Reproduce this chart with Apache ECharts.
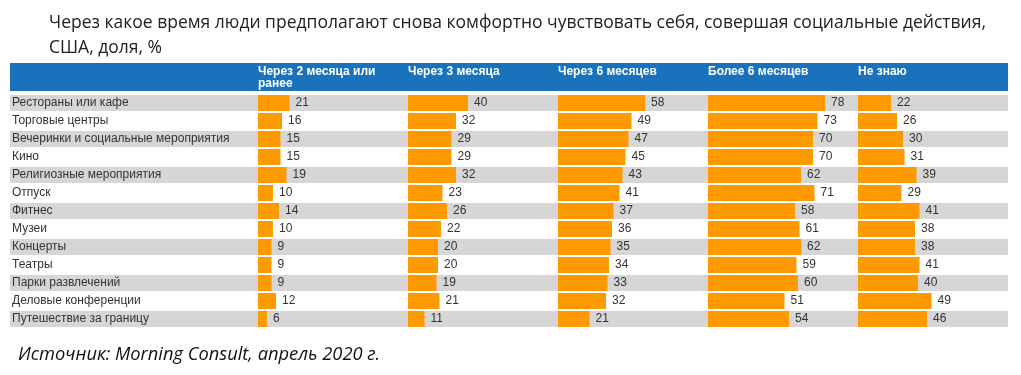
<!DOCTYPE html>
<html>
<head>
<meta charset="utf-8">
<script src="https://cdn.jsdelivr.net/npm/echarts@6/dist/echarts.min.js"></script>
<style>
  html, body { margin: 0; padding: 0; background: #fff; }
  #chart { width: 1021px; height: 375px; }
</style>
</head>
<body>
<div id="chart"></div>
<script>
// категории (строки таблицы)
const categories = [
    'Рестораны или кафе',
    'Торговые центры',
    'Вечеринки и социальные мероприятия',
    'Кино',
    'Религиозные мероприятия',
    'Отпуск',
    'Фитнес',
    'Музеи',
    'Концерты',
    'Театры',
    'Парки развлечений',
    'Деловые конференции',
    'Путешествие за границу'
];

// заголовки столбцов
const columns = [
    'Через 2 месяца или ранее',
    'Через 3 месяца',
    'Через 6 месяцев',
    'Более 6 месяцев',
    'Не знаю'
];

// значения, %
const in2Months = [21, 16, 15, 15, 19, 10, 14, 10, 9, 9, 9, 12, 6];
const in3Months = [40, 32, 29, 29, 32, 23, 26, 22, 20, 20, 19, 21, 11];
const in6Months = [58, 49, 47, 45, 43, 41, 37, 36, 35, 34, 33, 32, 21];
const over6Months = [78, 73, 70, 70, 62, 71, 58, 61, 62, 59, 60, 51, 54];
const dontKnow = [22, 26, 30, 31, 39, 29, 41, 38, 38, 41, 40, 49, 46];

const seriesData = [in2Months, in3Months, in6Months, over6Months, dontKnow];

const titleText = 'Через какое время люди предполагают снова комфортно чувствовать себя, совершая социальные действия,\nСША, доля, %';
const sourceText = 'Источник: Morning Consult, апрель 2020 г.';

// раскладка
const tableTop = 94;
const rowH = 18;
const panelLeft = [258, 408, 558, 708, 858];
const panelWidth = 150;
const cellFont = '"Liberation Sans", Arial, sans-serif';
const headFont = 'bold 12px ' + cellFont;

// перенос заголовка столбца по словам
function wrapText(text, font, maxW) {
    let ctx = document.createElement('canvas').getContext('2d');
    ctx.font = font;
    let lines = [], cur = '';
    text.split(' ').forEach(w => {
        let t = cur ? cur + ' ' + w : w;
        if (cur && ctx.measureText(t).width > maxW) {
            lines.push(cur);
            cur = w;
        } else {
            cur = t;
        }
    });
    lines.push(cur);
    return lines.join('\n');
}

let myChart = echarts.init(document.getElementById('chart'), null, { renderer: 'canvas' });

let grids = [{ left: 10, width: 998, top: tableTop, height: rowH * categories.length }];
let xAxes = [{ gridIndex: 0, type: 'value', min: 0, max: 1, show: false }];
let yAxes = [{
    gridIndex: 0,
    type: 'category',
    data: categories,
    inverse: true,
    axisLine: { show: false },
    axisTick: { show: false },
    axisLabel: {
        inside: true,
        margin: 2,
        fontSize: 12,
        color: '#333',
        fontFamily: cellFont
    }
}];
let series = [{
    // полосы строк (серый / белый)
    type: 'bar',
    xAxisIndex: 0,
    yAxisIndex: 0,
    barWidth: rowH - 2,
    silent: true,
    z: 0,
    data: categories.map((c, i) => ({
        value: 1,
        itemStyle: { color: i % 2 === 0 ? '#D6D6D6' : '#ffffff' }
    }))
}];

seriesData.forEach((arr, k) => {
    let idx = k + 1;
    grids.push({ left: panelLeft[k], width: panelWidth, top: tableTop, height: rowH * categories.length });
    xAxes.push({ gridIndex: idx, type: 'value', min: 0, max: 100, show: false });
    yAxes.push({ gridIndex: idx, type: 'category', data: categories, inverse: true, show: false });
    series.push({
        name: columns[k],
        type: 'bar',
        xAxisIndex: idx,
        yAxisIndex: idx,
        barWidth: rowH - 2,
        z: 2,
        itemStyle: { color: '#FF9900' },
        label: {
            show: true,
            position: 'right',
            distance: 6,
            fontSize: 12,
            color: '#333',
            fontFamily: cellFont
        },
        data: arr
    });
});

let graphics = [{
    type: 'rect',
    shape: { x: 10, y: 63, width: 998, height: 28 },
    style: { fill: '#1A72BD' },
    z: 1
}];
columns.forEach((name, k) => {
    graphics.push({
        type: 'text',
        x: panelLeft[k],
        y: 66,
        z: 2,
        style: {
            text: wrapText(name, headFont, 125),
            lineHeight: 12,
            fill: '#fff',
            font: headFont
        }
    });
});
graphics.push({
    type: 'text',
    x: 18,
    y: 346,
    style: {
        text: sourceText,
        fill: '#111',
        font: 'italic 18.3px "Open Sans", sans-serif'
    }
});

let option = {
    animation: false,
    backgroundColor: '#fff',
    title: {
        text: titleText,
        left: 49,
        top: 11,
        padding: 0,
        textStyle: {
            fontSize: 17.5,
            fontWeight: 'normal',
            lineHeight: 25,
            color: '#222',
            fontFamily: '"Open Sans", sans-serif'
        }
    },
    grid: grids,
    xAxis: xAxes,
    yAxis: yAxes,
    series: series,
    graphic: graphics
};
myChart.setOption(option);
</script>
</body>
</html>
